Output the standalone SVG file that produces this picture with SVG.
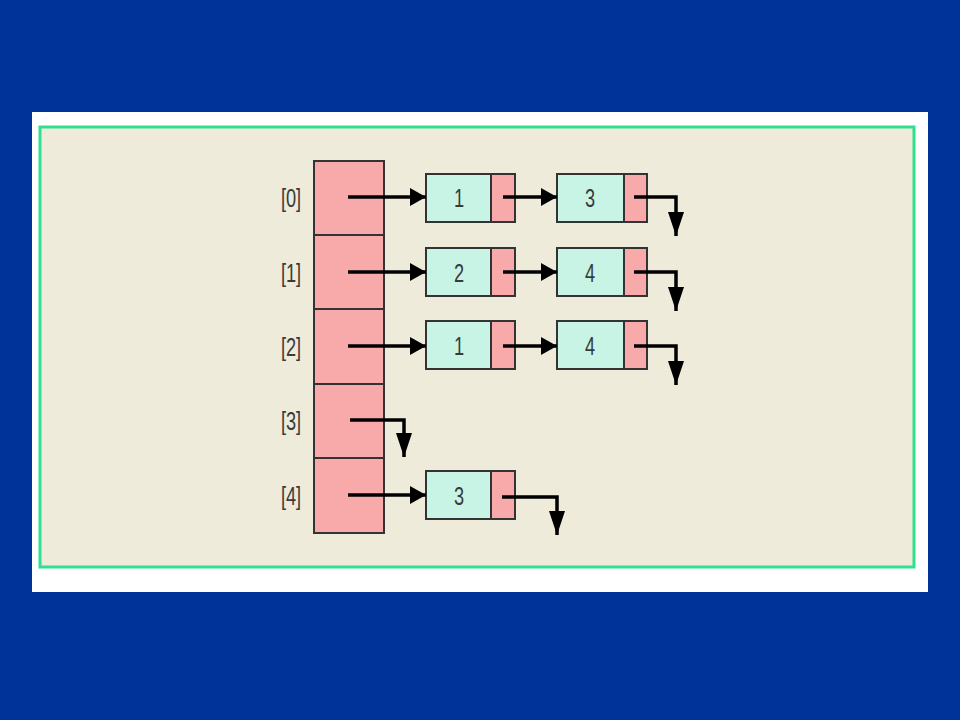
<svg xmlns="http://www.w3.org/2000/svg" width="960" height="720" viewBox="0 0 960 720">
<defs>
<marker id="ah" viewBox="0 0 16 18" refX="16" refY="9" markerWidth="16" markerHeight="18" markerUnits="userSpaceOnUse" orient="auto">
<path d="M0,0 L16,9 L0,18 Z" fill="#000"/>
</marker>
<marker id="ahd" viewBox="0 0 24 16" refX="24" refY="8" markerWidth="24" markerHeight="16" markerUnits="userSpaceOnUse" orient="auto">
<path d="M0,0 L24,8 L0,16 Z" fill="#000"/>
</marker>
</defs>
<style>
.cell{fill:#F8AAAA;stroke:#333;stroke-width:2}
.data{fill:#C8F4E6;stroke:#333;stroke-width:2}
.ptr{fill:#F8AAAA;stroke:#333;stroke-width:2}
.lbl,.num{font-family:"Liberation Sans","DejaVu Sans",sans-serif;font-size:26px;fill:#3a3a3a;text-anchor:middle}
.link{fill:none;stroke:#000;stroke-width:3.5;marker-end:url(#ah)}
.nul{fill:none;stroke:#000;stroke-width:3.5;marker-end:url(#ahd)}
</style>
<rect x="0" y="0" width="960" height="720" fill="#003399"/>
<rect x="32" y="112" width="896" height="480" fill="#FFFFFF"/>
<rect x="40" y="127" width="874" height="440" fill="#EEEBDA" stroke="#2EE090" stroke-width="3"/>
<g id="array">
<rect class="cell" x="314" y="161" width="70" height="74"/>
<rect class="cell" x="314" y="235" width="70" height="74"/>
<rect class="cell" x="314" y="309" width="70" height="75"/>
<rect class="cell" x="314" y="384" width="70" height="74"/>
<rect class="cell" x="314" y="458" width="70" height="75"/>
<text class="lbl" transform="translate(291,207) scale(0.7,1)">[0]</text>
<text class="lbl" transform="translate(291,282) scale(0.7,1)">[1]</text>
<text class="lbl" transform="translate(291,356) scale(0.7,1)">[2]</text>
<text class="lbl" transform="translate(291,430) scale(0.7,1)">[3]</text>
<text class="lbl" transform="translate(291,505) scale(0.7,1)">[4]</text>
</g>
<g id="n0a"><rect class="data" x="426" y="174" width="65" height="48"/><rect class="ptr" x="491" y="174" width="24" height="48"/><text class="num" transform="translate(459,207) scale(0.7,1)">1</text></g>
<g id="n0b"><rect class="data" x="557" y="174" width="67" height="48"/><rect class="ptr" x="624" y="174" width="23" height="48"/><text class="num" transform="translate(590,207) scale(0.7,1)">3</text></g>
<g id="n1a"><rect class="data" x="426" y="248" width="65" height="48"/><rect class="ptr" x="491" y="248" width="24" height="48"/><text class="num" transform="translate(459,282) scale(0.7,1)">2</text></g>
<g id="n1b"><rect class="data" x="557" y="248" width="67" height="48"/><rect class="ptr" x="624" y="248" width="23" height="48"/><text class="num" transform="translate(590,282) scale(0.7,1)">4</text></g>
<g id="n2a"><rect class="data" x="426" y="321" width="65" height="48"/><rect class="ptr" x="491" y="321" width="24" height="48"/><text class="num" transform="translate(459,355) scale(0.7,1)">1</text></g>
<g id="n2b"><rect class="data" x="557" y="321" width="67" height="48"/><rect class="ptr" x="624" y="321" width="23" height="48"/><text class="num" transform="translate(590,355) scale(0.7,1)">4</text></g>
<g id="n4a"><rect class="data" x="426" y="471" width="65" height="48"/><rect class="ptr" x="491" y="471" width="24" height="48"/><text class="num" transform="translate(459,505) scale(0.7,1)">3</text></g>
<g id="connectors">
<path class="link" d="M348,197 H426"/>
<path class="link" d="M348,272 H426"/>
<path class="link" d="M348,346 H426"/>
<path class="link" d="M348,495 H426"/>
<path class="link" d="M503,197 H557"/>
<path class="link" d="M503,272 H557"/>
<path class="link" d="M503,346 H557"/>
<path class="nul" d="M634,197 H676 V236"/>
<path class="nul" d="M634,272 H676 V311"/>
<path class="nul" d="M634,346 H676 V385"/>
<path class="nul" d="M350,420 H404 V457"/>
<path class="nul" d="M502,497 H557 V535"/>
</g>
</svg>
